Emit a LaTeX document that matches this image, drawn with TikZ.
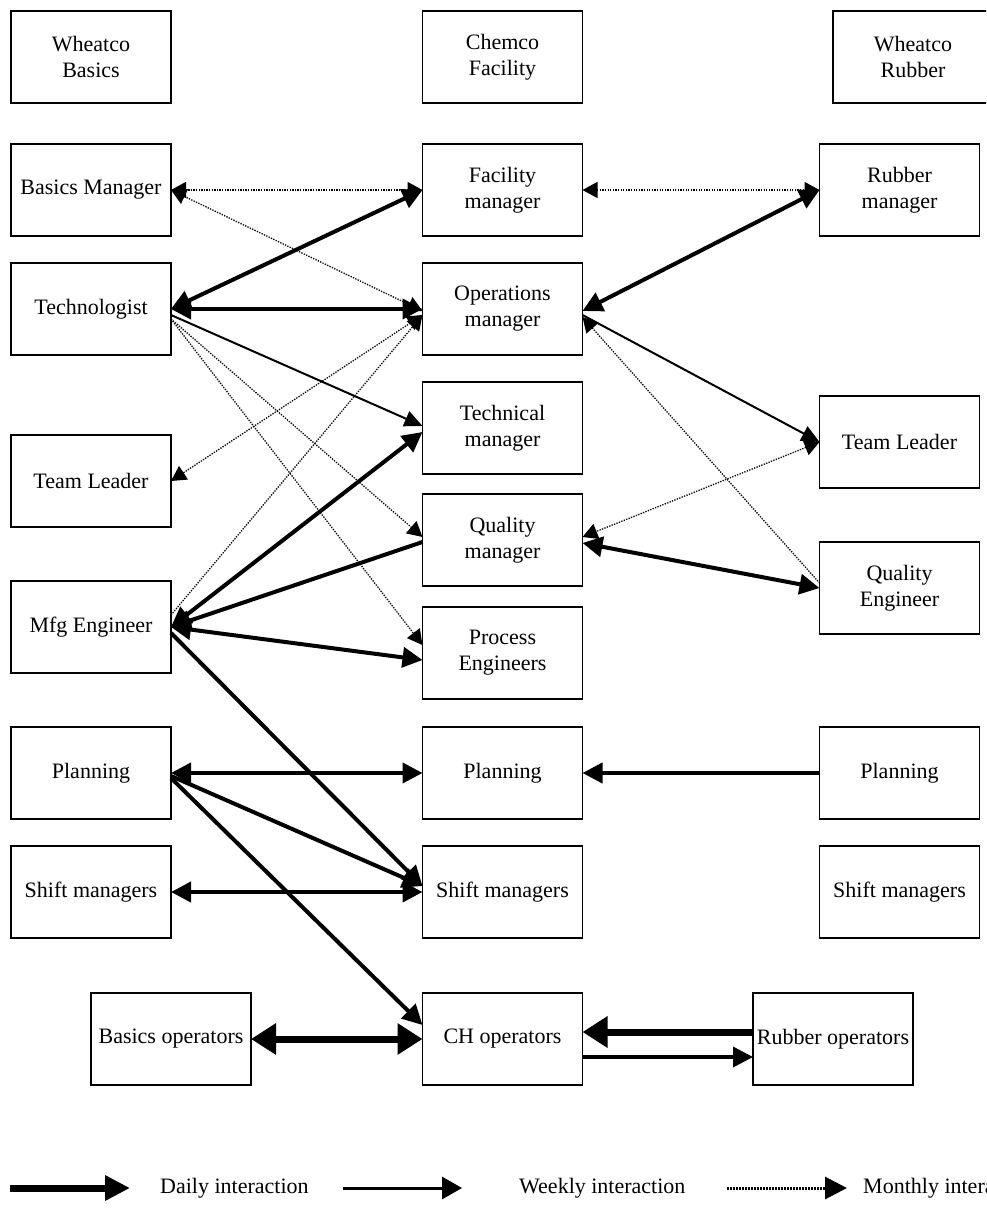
\documentclass[tikz,border=0pt]{standalone}
\usepackage{fontspec}
\setmainfont{Liberation Serif}
\usetikzlibrary{arrows.meta}

\tikzset{
  box/.style={draw, line width=1.5pt, rectangle, minimum width=160pt, minimum height=92pt,
    inner sep=0pt, outer sep=0pt, align=center, font=\fontsize{22}{26}\selectfont},
  daily/.style={line width=4pt, >={Triangle[length=20pt,width=20pt]}},
  heavy/.style={line width=7pt, >={Triangle[length=25pt,width=30pt]}},
  weekly/.style={line width=2pt, >={Triangle[length=18pt,width=16pt]}},
  monthly/.style={line width=1.3pt, dash pattern=on 1.3pt off 1.3pt,
    >={Triangle[length=15pt,width=16pt]}},
  legtext/.style={anchor=west, inner sep=0pt, font=\fontsize{22}{26}\selectfont}
}

\begin{document}
\begin{tikzpicture}[x=1pt, y=-1pt]
\useasboundingbox (0,0) rectangle (986,1214);
\clip (0,0) rectangle (986,1214);

% column headings
\node[box] (wb) at (91,57) {Wheatco\\Basics};
\node[box] (cf) at (502.5,57) {Chemco\\Facility};
\node[box] (wr) at (913,57) {Wheatco\\Rubber};

% managers and staff
\node[box] (bm) at (91,190) {Basics Manager};
\node[box] (fm) at (502.5,190) {Facility\\manager};
\node[box] (rm) at (899.5,190) {Rubber\\manager};
\node[box] (tech) at (91,309) {Technologist};
\node[box] (ops) at (502.5,309) {Operations\\manager};
\node[box] (techm) at (502.5,428) {Technical\\manager};
\node[box] (tlL) at (91,481) {Team Leader};
\node[box] (tlR) at (899.5,442) {Team Leader};
\node[box] (qm) at (502.5,540) {Quality\\manager};
\node[box] (qe) at (899.5,588) {Quality\\Engineer};
\node[box] (mfg) at (91,627) {Mfg Engineer};
\node[box] (pe) at (502.5,653) {Process\\Engineers};

% planning and shifts
\node[box] (planL) at (91,773) {Planning};
\node[box] (planC) at (502.5,773) {Planning};
\node[box] (planR) at (899.5,773) {Planning};
\node[box] (shL) at (91,892) {Shift managers};
\node[box] (shC) at (502.5,892) {Shift managers};
\node[box] (shR) at (899.5,892) {Shift managers};

% operators
\node[box] (bo) at (171,1039) {Basics operators};
\node[box] (cho) at (502.5,1039) {CH operators};
\node[box] (ro) at (833,1039) {Rubber operators};

% monthly interaction
\draw[monthly,<->] (bm.east) -- (fm.west);
\draw[monthly,<->] (bm.east) -- ([yshift=-2pt]ops.west);
\draw[monthly,<->] (fm.east) -- (rm.west);
\draw[monthly,<->] ([yshift=-6pt]ops.west) -- (tlL.east);
\draw[monthly,->] ([yshift=-10pt]tech.east) -- ([yshift=3pt]qm.west);
\draw[monthly,->] ([yshift=-10pt]tech.east) -- ([yshift=8pt]pe.west);
\draw[monthly,->] ([yshift=12pt]mfg.east) -- ([yshift=-6pt]ops.west);
\draw[monthly,<-] ([yshift=-8pt]ops.east) -- ([yshift=5pt]qe.west);
\draw[monthly,<->] (tlR.west) -- ([yshift=3pt]qm.east);

% weekly interaction
\draw[weekly,->] ([yshift=-6pt]tech.east) -- ([yshift=2pt]techm.west);
\draw[weekly,->] ([yshift=-6pt]ops.east) -- (tlR.west);
\draw[line width=3.5pt, -{Triangle[length=20pt,width=20pt]}]
  ([yshift=-18pt]cho.east) -- ([yshift=-18pt]ro.west);

% daily interaction
\draw[daily,<->] (tech.east) -- (fm.west);
\draw[daily,<->] (tech.east) -- (ops.west);
\draw[daily,<->] ([yshift=-2pt]ops.east) -- (rm.west);
\draw[daily,<->] (mfg.east) -- ([yshift=-4pt]techm.west);
\draw[daily,<-] (mfg.east) -- ([yshift=-2pt]qm.west);
\draw[daily,<->] (mfg.east) -- ([yshift=-7pt]pe.west);
\draw[daily,<->] ([yshift=-3pt]qm.east) -- (qe.west);
\draw[daily,->] ([yshift=-6pt]mfg.east) -- ([yshift=6pt]shC.west);
\draw[daily,<->] (planL.east) -- (planC.west);
\draw[daily,->] ([yshift=-3pt]planL.east) -- ([yshift=6pt]shC.west);
\draw[daily,->] ([yshift=-5pt]planL.east) -- ([yshift=14pt]cho.west);
\draw[daily,->] (planR.west) -- (planC.east);
\draw[daily,<->] (shL.east) -- (shC.west);
\draw[heavy,<->] (bo.east) -- (cho.west);
\draw[heavy,->] ([yshift=7pt]ro.west) -- ([yshift=7pt]cho.east);

% key
\coordinate (k1a) at (10,1188);
\coordinate (k1b) at (130,1188);
\coordinate (k2a) at (343,1188);
\coordinate (k2b) at (462,1188);
\coordinate (k3a) at (727,1188);
\coordinate (k3b) at (847,1188);
\draw[line width=7pt, -{Triangle[length=25pt,width=24pt]}] (k1a) -- (k1b);
\draw[line width=3pt, -{Triangle[length=20pt,width=22pt]}] (k2a) -- (k2b);
\draw[line width=3pt, dash pattern=on 2pt off 1pt, -{Triangle[length=22pt,width=22pt]}] (k3a) -- (k3b);
\node[legtext] (l1) at (160,1188) {Daily interaction};
\node[legtext] (l2) at (519,1188) {Weekly interaction};
\node[legtext] (l3) at (863,1188) {Monthly interaction};
\end{tikzpicture}
\end{document}
